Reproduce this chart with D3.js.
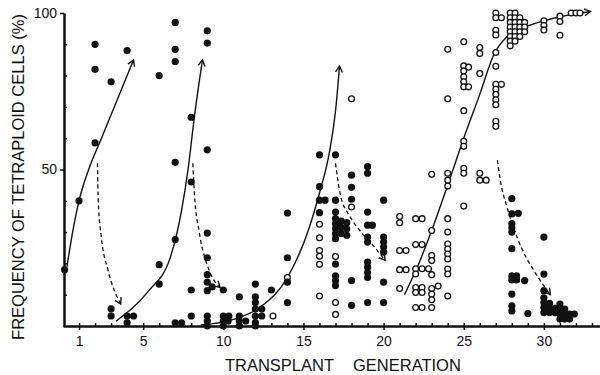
<!DOCTYPE html>
<html><head><meta charset="utf-8">
<script src="https://cdn.jsdelivr.net/npm/d3@7"></script>
<style>
body{margin:0;background:#fff}
text{font-family:"Liberation Sans",Arial,sans-serif;fill:#111}
</style>
</head><body>
<svg id="c" width="600" height="375"></svg>
<script>
// ---- data: [transplant generation, % tetraploid cells] ----
const xTicks = [1, 5, 10, 15, 20, 25, 30];
const yTicks = [50, 100];
const yMinorTicks = [10, 20, 30, 40, 60, 70, 80, 90];

const filledPoints = [
  [0.1,18],[1,40],[2,58.5],[2,82],[2,90],[3,78],[3,5.5],[3,3.2],
  [4,88],[4,3.2],[4.4,3.2],[4,1],
  [6,80],[6,19.6],[6,13.4],
  [7,97],[7,88.4],[7,84.5],[7,52.3],[7,27.6],[7,1],[7.4,1],
  [8,66.7],[8,46],[8,11.5],[8,3.2],
  [9,94.3],[9,90.4],[9,56.3],[9,29.7],[9,21.8],[9,16.4],[9,14],[9.3,12.5],[9,11.3],[9,3.2],[9,1.6],[9,0],
  [10,11.5],[10,3.2],[10,1.6],[10,0],[10.35,3.2],[10.3,1.6],
  [11,9.3],[11,3.2],[11,1.6],[11,0],[11.4,1.6],
  [12,13.4],[12,9.3],[12,7.5],[12,5.4],[12,3.2],[12,1.1],[12,0],[12.4,5.4],[12.4,3.2],
  [13,11.5],
  [14,36.1],[14,21.8],[14,14],[14,7.5],
  [16,54.7],[16,44.5],[16,40.2],[16.35,40.2],[16,36.2],
  [17,54.7],[17,40.2],[17,36.4],[17,34.3],[17,32.7],[17,31.1],[17,29.5],[17,27.9],
  [17.35,33.5],[17.35,31.5],[17.35,29.5],[17.7,33],[17.7,31],[17.7,29],
  [17,19.8],[17,16],[17,14.5],[17,12.9],
  [18,48.2],[18,44.3],[18,40.5],[18,14.5],[18,6.6],
  [19,50.9],[19,48.8],[19,36.4],[19,32.2],[19.3,32.2],[19,28.4],[19,26.8],[19,20.4],[19,18.8],[19,17.1],[19,15.5],[19,7.5],
  [20,40.2],[20,28.4],[20,26.8],[20,25.2],[20,23.6],[20,14],[20,7.5],
  [28,40.7],[28,35.8],[28.4,36],[28,32.7],[28,31.4],[28,30],[28,24.7],[28,16],[28,14.7],[28.3,16],[28.3,14.7],[28.8,14.5],[28,10.2],[28,6.4],[28,4.8],
  [29,4],
  [30,28.4],[30,16.6],[30,11.3],[30,9],[30,7.5],[30,5.9],[30,4.3],[30.35,7.2],[30.35,5.6],[30.35,4.3],[30.7,5.6],[30.7,4.3],
  [31,7],[31,5.4],[31,3.8],[31,2.2],[31.3,5.4],[31.3,3.8],[31.3,2.2],[31.6,3.8],[31.6,2.2],[31.9,3.8]
];

const openPoints = [
  [13.1,3.2],[14,15.5],
  [16,32.5],[16,28.2],[16,24.1],[16,22.3],[16,19.7],[16,9.6],
  [17,22.2],[17,7.5],[17,3.7],
  [18,72.6],[18,38],
  [21,35],[21,33],[21,24.1],[21.4,24.1],[21,18],[21.4,18],[21,12],
  [22,34.3],[22.4,34.3],[22,26],[22.4,26],[22,18.3],[22.4,18.3],[22.8,18.3],[22,16.6],[22,12.3],[22.4,12.3],[22,10.7],[22.4,10.7],[22,5.9],[22.4,5.9],
  [23,48.5],[23,30.5],[23,22.5],[23,20.9],[23,16.4],[23,12],[23.4,12.8],[23,10.2],[23,8.4],[23,5.9],
  [24,88.4],[24,72.6],[24,48.8],[24,46.6],[24,44.7],[24,34.3],[24,30],[24,26.2],[24,24.6],[24,23],[24,21.4],[24,18.2],[24,16.6],[24,9.6],
  [25,90.8],[25,83.1],[25.3,82.7],[25,81.5],[25,79.6],[25,78],[25,76.4],[25.3,76.4],[25,68.8],[25,59],[25,57.4],[25,50.4],[25,48.8],[25,38.3],
  [26,89],[26,87.1],[26,80.7],[26,48.8],[26,46.6],[26.4,46.6],
  [27,100],[27,98.5],[27.35,98.5],[27,94.5],[27,93],[27,87.4],[27,83],[27,77.2],[27.35,77.2],[27,75.6],[27,74],[27,72.3],[27,70.7],[27,65.4],[27,63.8],
  [27.9,100],[27.9,98.5],[27.9,97],[27.9,95.5],[27.9,94],[27.9,92.5],[27.9,91],[27.9,89.5],
  [28.2,100],[28.2,98.5],[28.2,97],[28.2,95.5],[28.2,94],[28.2,92.5],[28.2,91],
  [28.5,98.5],[28.5,97],[28.5,95.5],[28.5,94],[28.5,92.5],
  [28.8,97],[28.8,95.5],[28.8,94],
  [30,97.5],[30,96],[30,94.6],
  [31,99],[31,97.3],[31,92.9],
  [31.7,100],[32,100],[32.25,100]
];

// solid arrows (rise of tetraploid frequency)
const rise1 = [[0.25,19],[0.6,30],[1.0,40],[1.6,50],[2.4,60],[3.2,70],[4.4,85]];
const rise2 = [[3.3,1.5],[5.3,11],[6.7,22],[7.4,37],[7.8,50],[8.2,67],[8.7,85]];
const rise3 = [[8.6,0.3],[10.7,2.2],[12.3,6],[14,15.5],[15.3,30.5],[16,42.5],[16.6,55],[17,68.6],[17.25,83]];
const rise4 = [[21.3,10],[22.2,20],[23,30.5],[24,45],[25,60],[26,74],[26.9,87],[27.7,92.5],[28.8,95.5],[30,97.5],[31,98.8],[32.9,100.5]];
// dashed arrows (fall)
const fall1 = [[2.15,52],[2.2,40],[2.4,28],[2.8,18],[3.6,7]];
const fall2 = [[8.1,52],[8.2,42],[8.5,30],[9.1,18],[9.8,12.3]];
const fall3 = [[17,52],[17.3,42],[17.9,35],[18.6,30],[19.3,26],[20.1,21]];
const fall4 = [[27.1,53],[27.3,46],[27.7,38],[28.6,25],[29.4,17.5],[30.4,10]];

// ---- drawing ----
const svg = d3.select("#c");
const x = d3.scaleLinear().domain([0, 33.5]).range([63, 600]);
const y = d3.scaleLinear().domain([0, 100]).range([326, 13]);

const defs = svg.append("defs");
defs.append("marker").attr("id","arr").attr("viewBox","-8 -5 10 10")
  .attr("refX",0).attr("refY",0).attr("markerWidth",10).attr("markerHeight",10)
  .attr("markerUnits","userSpaceOnUse").attr("orient","auto")
  .append("path").attr("d","M-6,-3.5L0,0L-6,3.5").attr("fill","none")
  .attr("stroke","#111").attr("stroke-width",1.4);

const line = d3.line().x(d => x(d[0])).y(d => y(d[1])).curve(d3.curveMonotoneX);

[rise1, rise2, rise3, rise4].forEach(c => {
  svg.append("path").attr("d", line(c)).attr("fill","none")
    .attr("stroke","#111").attr("stroke-width",1.4).attr("marker-end","url(#arr)");
});
[fall1, fall2, fall3, fall4].forEach(c => {
  svg.append("path").attr("d", line(c)).attr("fill","none")
    .attr("stroke","#111").attr("stroke-width",1.3).attr("stroke-dasharray","4,3")
    .attr("marker-end","url(#arr)");
});

// axes
const xAxis = svg.append("g").attr("transform","translate(0,326)")
  .call(d3.axisBottom(x).tickValues(xTicks).tickFormat(d3.format("d")).tickSize(4).tickSizeOuter(0).tickPadding(6));
const xMinor = svg.append("g").attr("transform","translate(0,326)")
  .call(d3.axisTop(x).tickValues(d3.range(1,34)).tickFormat("").tickSize(3).tickSizeOuter(0));
const yAxis = svg.append("g").attr("transform","translate(64,0)")
  .call(d3.axisLeft(y).tickValues(yTicks).tickSize(4).tickSizeOuter(0).tickPadding(3));
const yMinor = svg.append("g").attr("transform","translate(64,0)")
  .call(d3.axisRight(y).tickValues(yMinorTicks).tickFormat("").tickSize(3).tickSizeOuter(0));
[xAxis, xMinor, yAxis, yMinor].forEach(g => {
  g.select(".domain").attr("stroke","#111").attr("stroke-width",2);
  g.selectAll(".tick line").attr("stroke","#111").attr("stroke-width",1.5);
  g.selectAll("text").attr("font-size",14).attr("fill","#111")
    .attr("font-family","'Liberation Sans',Arial,sans-serif");
});

// points
svg.append("g").selectAll("circle").data(openPoints).join("circle")
  .attr("cx", d => x(d[0])).attr("cy", d => y(d[1])).attr("r", 2.9)
  .attr("fill","#fff").attr("stroke","#111").attr("stroke-width",1.3);
svg.append("g").selectAll("circle").data(filledPoints).join("circle")
  .attr("cx", d => x(d[0])).attr("cy", d => y(d[1])).attr("r", 3.6)
  .attr("fill","#111");

// axis titles
svg.append("text").attr("x",334).attr("y",371).attr("text-anchor","end")
  .attr("font-size",16.5).text("TRANSPLANT");
svg.append("text").attr("x",353).attr("y",371).attr("text-anchor","start")
  .attr("font-size",16.5).text("GENERATION");
svg.append("text").attr("transform","translate(24,177) rotate(-90)")
  .attr("text-anchor","middle").attr("font-size",16.5)
  .text("FREQUENCY OF TETRAPLOID CELLS (%)");
</script>
</body></html>
